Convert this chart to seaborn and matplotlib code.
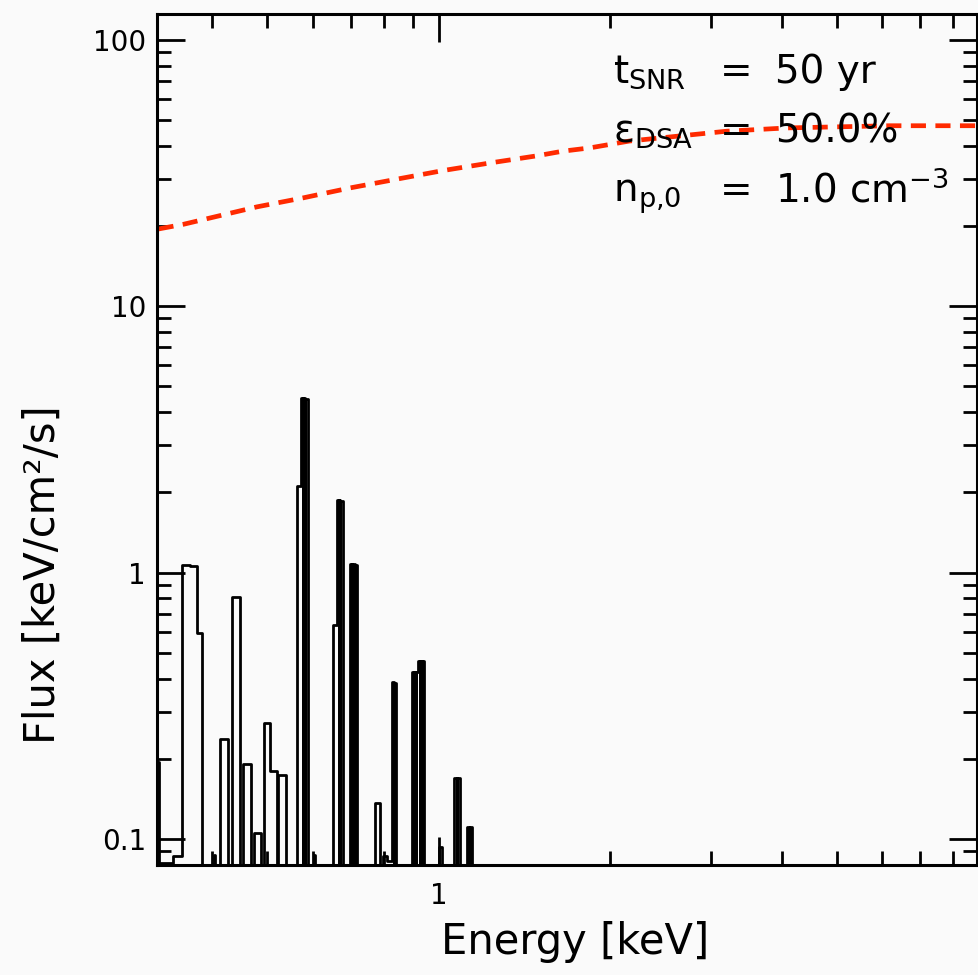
import matplotlib
matplotlib.use("Agg")
import matplotlib.pyplot as plt
import matplotlib.ticker as mticker
import seaborn as sns

# ---- spectrum (step histogram): bin lower edge, upper edge, flux [keV/cm2/s]
bin_lo = [0.3000, 0.3228, 0.3419, 0.3537, 0.3658, 0.3758,
          0.4025, 0.4128, 0.4339, 0.4536, 0.4737, 0.4938, 0.5052, 0.5224,
          0.5623, 0.5715, 0.5772, 0.5827,
          0.6030,
          0.6508, 0.6622, 0.6668, 0.6713,
          0.6982, 0.7043, 0.7113,
          0.7721,
          0.7985, 0.8095, 0.8259, 0.8333,
          0.8979, 0.9053, 0.9128, 0.9197, 0.9263, 0.9333,
          0.9990,
          1.0624, 1.0754,
          1.1183, 1.1314]
bin_hi = [0.3228, 0.3419, 0.3537, 0.3658, 0.3758, 0.3835,
          0.4050, 0.4258, 0.4475, 0.4680, 0.4872, 0.5052, 0.5191, 0.5383,
          0.5715, 0.5770, 0.5825, 0.5879,
          0.6065,
          0.6622, 0.6665, 0.6710, 0.6777,
          0.7040, 0.7110, 0.7189,
          0.7895,
          0.8095, 0.8259, 0.8330, 0.8407,
          0.9050, 0.9125, 0.9197, 0.9260, 0.9330, 0.9423,
          1.0110,
          1.0750, 1.0886,
          1.1310, 1.1441]
flux = [0.195, 0.0812, 0.086, 1.07, 1.055, 0.595,
        0.087, 0.237, 0.807, 0.191, 0.105, 0.272, 0.180, 0.174,
        2.11, 4.54, 4.54, 4.50,
        0.087,
        0.637, 1.87, 1.87, 1.86,
        1.08, 1.08, 1.07,
        0.136,
        0.086, 0.0827, 0.387, 0.385,
        0.425, 0.425, 0.425, 0.467, 0.467, 0.467,
        0.0936,
        0.170, 0.170,
        0.111, 0.111]

# ---- model curve (red dashed)
model_energy = [0.322, 0.356, 0.479, 0.577, 0.698, 0.844, 1.016, 1.229,
                1.486, 1.650, 1.84, 2.16, 3.20, 4.08, 6.18, 8.51, 8.8]
model_flux = [19.5, 20.3, 23.6, 25.5, 27.8, 30.0, 32.3, 34.5,
              36.7, 38.2, 39.3, 41.7, 45.4, 46.7, 47.6, 47.6, 47.6]

x_limits = (0.32, 8.8)
y_limits = (0.0798, 125.0)

sns.set_theme(style="ticks")
plt.rcParams["font.family"] = ["DejaVu Sans"]
plt.rcParams["mathtext.fontset"] = "dejavusans"
plt.rcParams["text.color"] = "black"
plt.rcParams["axes.labelcolor"] = "black"

bg = "#fafafa"
fig = plt.figure(figsize=(9.79, 9.75), dpi=100, facecolor=bg)
ax = fig.add_axes([0.1604, 0.1128, 0.8376, 0.8728])
ax.set_facecolor(bg)
ax.set_xscale("log")
ax.set_yscale("log")

# build step path from bins (gaps drop below the axis)
floor = 1e-4
xs, ys = [], []
prev_hi = None
for lo, hi, f in zip(bin_lo, bin_hi, flux):
    if prev_hi is not None and abs(lo - prev_hi) > 1e-9:
        xs.append(prev_hi)
        ys.append(floor)
    xs.append(lo)
    ys.append(f)
    prev_hi = hi
xs.append(prev_hi)
ys.append(floor)
xs.append(x_limits[1] * 1.2)
ys.append(floor)

sns.lineplot(x=xs, y=ys, estimator=None, sort=False, drawstyle="steps-post",
             color="black", linewidth=2.0, ax=ax)
sns.lineplot(x=model_energy, y=model_flux, estimator=None, sort=False,
             color="#ff2a00", linewidth=3.4, linestyle=(0, (3.2, 2.0)), ax=ax)

ax.set_xlim(*x_limits)
ax.set_ylim(*y_limits)

for s in ax.spines.values():
    s.set_visible(True)
    s.set_linewidth(2.2)
    s.set_color("black")

ax.tick_params(which="both", direction="in", top=True, right=True,
               color="black", width=2.0)
ax.tick_params(which="major", length=20)
ax.tick_params(which="minor", length=10)
ax.tick_params(axis="y", which="major", labelsize=20, pad=8, labelcolor="black")
ax.tick_params(axis="x", which="major", labelsize=20, pad=12, labelcolor="black")

fmt = mticker.FuncFormatter(lambda v, p: f"{v:g}")
ax.xaxis.set_major_locator(mticker.LogLocator(base=10))
ax.yaxis.set_major_locator(mticker.LogLocator(base=10))
ax.xaxis.set_minor_locator(mticker.LogLocator(base=10, subs=range(2, 10)))
ax.yaxis.set_minor_locator(mticker.LogLocator(base=10, subs=range(2, 10)))
ax.xaxis.set_major_formatter(fmt)
ax.yaxis.set_major_formatter(fmt)
ax.xaxis.set_minor_formatter(mticker.NullFormatter())
ax.yaxis.set_minor_formatter(mticker.NullFormatter())
ax.grid(False)

ax.set_xlabel("Energy [keV]", fontsize=30, color="black")
ax.set_ylabel("Flux [keV/cm²/s]", fontsize=30, color="black")
ax.xaxis.set_label_coords(0.51, -0.066)
ax.yaxis.set_label_coords(-0.114, 0.341)

fs = 28
rows = [(r"$\mathregular{t_{SNR}}$", "50 yr", 0.919),
        (r"$\mathregular{\epsilon_{DSA}}$", "50.0%", 0.8496),
        (r"$\mathregular{n_{p{,}0}}$", r"1.0 cm$^{-3}$", 0.779)]
for lab, val, yy in rows:
    ax.text(0.556, yy, lab, transform=ax.transAxes, fontsize=fs, va="baseline", ha="left", color="black")
    ax.text(0.686, yy, "=", transform=ax.transAxes, fontsize=fs, va="baseline", ha="left", color="black")
    ax.text(0.7537, yy, val, transform=ax.transAxes, fontsize=fs, va="baseline", ha="left", color="black")

fig.savefig("out.png", dpi=100, facecolor=bg)
